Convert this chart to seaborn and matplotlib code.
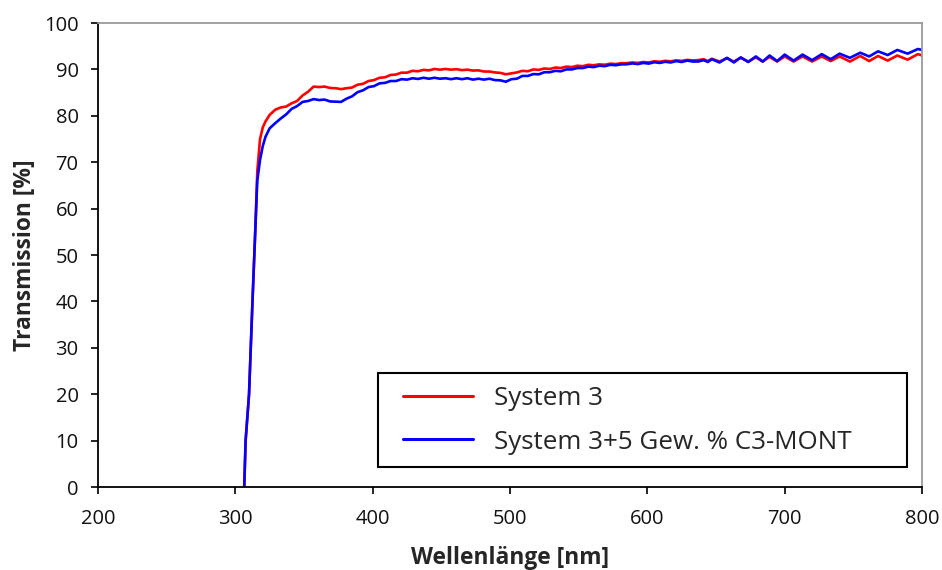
import matplotlib
matplotlib.use("Agg")
import matplotlib.pyplot as plt
from matplotlib.lines import Line2D
from matplotlib.legend_handler import HandlerLine2D
import pandas as pd
import seaborn as sns

# Wavelength grid [nm]
wavelength = [
    306.5, 307, 307.5, 310, 312.5, 314.5, 316, 318, 320, 322, 325, 329,
    333, 337, 341, 345, 349, 353, 357, 361, 365, 369, 373, 377, 381, 385,
    389, 393, 397, 401, 405, 409, 413, 417, 421, 425, 429, 433, 437, 441,
    445, 449, 453, 457, 461, 465, 469, 473, 477, 481, 485, 489, 493, 497,
    501, 505, 509, 513, 517, 521, 525, 529, 533, 537, 541, 545, 549, 553,
    557, 561, 565, 569, 573, 577, 581, 585, 589, 593, 597, 601, 605, 609,
    613, 617, 621, 625, 629, 633, 637,
    641, 644, 647, 652.5, 658, 663, 668, 673.5, 679, 684, 689, 694.5, 700,
    706.5, 713, 720, 727, 733.5, 740, 747.5, 755, 761.5, 768, 775, 782,
    789.5, 797, 800,
]

# Transmission [%] of the unfilled system
system3 = [
    0, 5, 10, 20, 40, 55, 68, 75, 77.5, 78.8, 80.2, 81.3,
    81.8, 82.0, 82.7, 83.2, 84.4, 85.2, 86.3, 86.2, 86.3, 86.0, 85.95, 85.75,
    85.95, 86.1, 86.7, 86.9, 87.5, 87.7, 88.2, 88.3, 88.8, 88.9, 89.3, 89.3,
    89.7, 89.6, 89.9, 89.8, 90.1, 89.95, 90.1, 89.95, 90.05, 89.85, 89.95,
    89.75, 89.8, 89.55, 89.55, 89.35, 89.25, 88.95, 89.15, 89.35, 89.7,
    89.6, 90.0, 89.9, 90.2, 90.1, 90.4, 90.3, 90.6, 90.5, 90.8, 90.7,
    91.0, 90.9, 91.1, 91.0, 91.25, 91.15, 91.35, 91.35, 91.5, 91.4, 91.6,
    91.5, 91.75, 91.65, 91.85, 91.75, 91.95, 91.85, 92.05, 91.95, 92.0,
    92.2, 91.8, 92.3, 91.7, 92.4, 91.7, 92.5, 91.7, 92.6, 91.7, 92.7, 91.7,
    92.8, 91.7, 92.8, 91.7, 92.8, 91.8, 92.8, 91.7, 92.9, 91.8, 92.9, 91.9,
    93.0, 92.1, 93.3, 93.0,
]

# Transmission [%] with 5 wt.% C3-MONT
system3_mont = [
    0, 5, 10, 20, 40, 55, 66, 70.5, 73.5, 75.5, 77.3, 78.4,
    79.4, 80.3, 81.5, 82.1, 83.0, 83.2, 83.6, 83.4, 83.5, 83.1, 83.05, 83.0,
    83.7, 84.2, 85.1, 85.5, 86.2, 86.4, 87.0, 87.1, 87.5, 87.5, 87.9, 87.8,
    88.1, 87.95, 88.2, 88.0, 88.2, 88.0, 88.1, 87.9, 88.1, 87.9, 88.1,
    87.8, 88.0, 87.8, 88.0, 87.7, 87.65, 87.35, 87.9, 88.0, 88.6, 88.6,
    89.0, 88.95, 89.4, 89.4, 89.7, 89.6, 90.0, 90.0, 90.3, 90.3, 90.6,
    90.5, 90.8, 90.7, 91.0, 90.9, 91.1, 91.1, 91.3, 91.15, 91.4, 91.25,
    91.55, 91.4, 91.65, 91.5, 91.8, 91.6, 91.9, 91.7, 91.7,
    92.0, 91.6, 92.2, 91.5, 92.5, 91.5, 92.6, 91.6, 92.8, 91.7, 93.0, 91.8,
    93.2, 91.9, 93.2, 92.0, 93.3, 92.2, 93.4, 92.5, 93.6, 92.8, 93.9, 93.1,
    94.2, 93.4, 94.4, 94.2,
]

labels = ["System 3", "System 3+5 Gew. % C3-MONT"]
colors = ["#FF0000", "#0000FF"]

assert len(wavelength) == len(system3) == len(system3_mont)

df = pd.concat([
    pd.DataFrame({"wl": wavelength, "T": system3, "Probe": labels[0]}),
    pd.DataFrame({"wl": wavelength, "T": system3_mont, "Probe": labels[1]}),
], ignore_index=True)

sns.set_theme(style="ticks")
plt.rcParams["font.family"] = ["Open Sans", "DejaVu Sans"]

fig = plt.figure(figsize=(9.42, 5.70), dpi=100)
ax = fig.add_axes([0.104, 0.1456, 0.8748, 0.814])

sns.lineplot(data=df, x="wl", y="T", hue="Probe", palette=colors,
             linewidth=1.9, sort=False, estimator=None, ax=ax)

ax.set_xlim(200, 800)
ax.set_ylim(0, 100)
ax.set_xticks(range(200, 801, 100))
ax.set_yticks(range(0, 101, 10))
ax.tick_params(axis="both", direction="out", length=5, width=1.2,
               color="black", labelsize=14.5, labelcolor="#111111")
ax.tick_params(axis="x", pad=11)
ax.tick_params(axis="y", pad=9)

for side in ("left", "bottom"):
    ax.spines[side].set_color("black")
    ax.spines[side].set_linewidth(1.3)
for side in ("top", "right"):
    ax.spines[side].set_visible(True)
    ax.spines[side].set_color("#9a9a9a")
    ax.spines[side].set_linewidth(1.3)

ax.set_xlabel("Wellenlänge [nm]", fontsize=16.4, fontweight="bold",
              labelpad=12)
ax.set_ylabel("Transmission [%]", fontsize=16.4, fontweight="bold",
              labelpad=5)

handles, _ = ax.get_legend_handles_labels()
leg = ax.legend(handles, labels, loc="lower left",
                bbox_to_anchor=(0.34, 0.043, 0.642, 0.203), mode="expand",
                fontsize=18.7, frameon=True, fancybox=False, framealpha=1,
                edgecolor="black", handlelength=3.17, handletextpad=0.8,
                labelspacing=0.72, borderpad=0.48, borderaxespad=0,
                handler_map={Line2D: HandlerLine2D(xpad=0.48)})
leg.get_frame().set_linewidth(1.5)
for line in leg.get_lines():
    line.set_linewidth(2.2)

fig.savefig("out.png", dpi=100)
